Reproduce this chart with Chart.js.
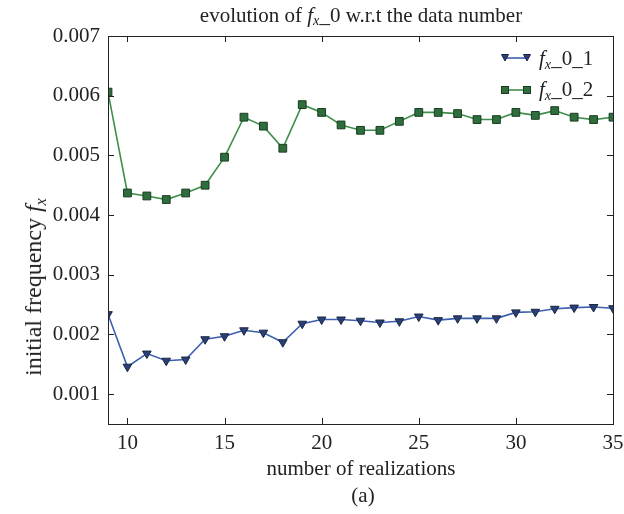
<!DOCTYPE html>
<html><head><meta charset="utf-8">
<script src="https://cdn.jsdelivr.net/npm/chart.js@4.4.0/dist/chart.umd.min.js"></script>
<style>
html,body{margin:0;padding:0;background:#fff;}
#wrap{position:relative;width:624px;height:514px;font-family:"Liberation Serif","Times New Roman",serif;color:#222;}
#c{position:absolute;left:0;top:0;}
.t{position:absolute;white-space:nowrap;font-size:21px;line-height:1;transform:translate(-50%,-50%);}
sub{font-size:0.68em;vertical-align:-0.28em;line-height:0;}
.leg{position:absolute;white-space:nowrap;font-size:21px;line-height:1;display:flex;align-items:center;}
.leg svg{margin-right:8px;}
</style></head>
<body>
<div id="wrap">
<canvas id="c" width="624" height="514"></canvas>
<div class="t" style="left:361px;top:15px;">evolution of <i>f</i><sub><i>x</i></sub>_0 w.r.t the data number</div>
<div class="t" style="left:33px;top:287px;font-size:24px;transform:translate(-50%,-50%) rotate(-90deg);">initial frequency <i>f</i><sub><i>x</i></sub></div>
<div class="t" style="left:361px;top:468px;">number of realizations</div>
<div class="t" style="left:363px;top:495px;">(a)</div>
<div class="leg" style="left:501px;top:48px;">
<svg width="30" height="14" viewBox="0 0 30 14"><line x1="4" y1="6" x2="26" y2="6" stroke="#3c5fb0" stroke-width="1.6"/><polygon points="0.5,2.5 7.5,2.5 4,9" fill="#2a3f73" stroke="#1a2748" stroke-width="1"/><polygon points="22.5,2.5 29.5,2.5 26,9" fill="#2a3f73" stroke="#1a2748" stroke-width="1"/></svg><span><i>f</i><sub><i>x</i></sub>_0_1</span></div>
<div class="leg" style="left:501px;top:79px;">
<svg width="30" height="14" viewBox="0 0 30 14"><line x1="4" y1="7" x2="26" y2="7" stroke="#3f8f4a" stroke-width="1.6"/><rect x="0.5" y="3.5" width="7" height="7" fill="#2e6e3c" stroke="#1b3d22" stroke-width="1"/><rect x="22.5" y="3.5" width="7" height="7" fill="#2e6e3c" stroke="#1b3d22" stroke-width="1"/></svg><span><i>f</i><sub><i>x</i></sub>_0_2</span></div>
</div>
<script>
const realizations = [9,10,11,12,13,14,15,16,17,18,19,20,21,22,23,24,25,26,27,28,29,30,31,32,33,34,35];
const fx01 = [0.00234,0.00146,0.00168,0.00156,0.00158,0.00192,0.00197,0.00207,0.00203,0.00187,0.00218,0.00225,0.00225,0.00223,0.00220,0.00222,0.00230,0.00224,0.00227,0.00227,0.00227,0.00237,0.00238,0.00243,0.00245,0.00246,0.00244];
const fx02 = [0.00606,0.00437,0.00432,0.00426,0.00437,0.00450,0.00497,0.00564,0.00549,0.00512,0.00585,0.00572,0.00551,0.00542,0.00542,0.00557,0.00572,0.00572,0.00570,0.00560,0.00560,0.00572,0.00567,0.00575,0.00564,0.00560,0.00564];
const xTicks = [10,15,20,25,30,35];
const yTicks = [0.001,0.002,0.003,0.004,0.005,0.006,0.007];
const seriesNames = ['f_x_0_1','f_x_0_2'];

const toPts = arr => realizations.map((x,i)=>({x:x,y:arr[i]}));

const framePlugin = {
  id:'frame',
  afterDatasetsDraw(chart){
    const {ctx, chartArea:a, scales:{x,y}} = chart;
    ctx.save();
    ctx.strokeStyle='#222'; ctx.lineWidth=1;
    ctx.beginPath();
    xTicks.forEach(v=>{const p=Math.round(x.getPixelForValue(v))+0.5;
      ctx.moveTo(p,a.bottom); ctx.lineTo(p,a.bottom-6);
      ctx.moveTo(p,a.top); ctx.lineTo(p,a.top+6);});
    yTicks.forEach(v=>{const p=Math.round(y.getPixelForValue(v))+0.5;
      ctx.moveTo(a.left,p); ctx.lineTo(a.left+6,p);
      ctx.moveTo(a.right,p); ctx.lineTo(a.right-6,p);});
    ctx.stroke();
    ctx.strokeRect(Math.round(a.left)+0.5, Math.round(a.top)+0.5, Math.round(a.right-a.left), Math.round(a.bottom-a.top));
    ctx.restore();
  }
};

new Chart(document.getElementById('c'), {
  type:'line',
  data:{datasets:[
    {label:seriesNames[0], data:toPts(fx01), borderColor:'#3c5fb0', borderWidth:1.6,
     pointStyle:'triangle', rotation:180, pointRadius:5, pointBackgroundColor:'#2a3f73', pointBorderColor:'#1a2748', pointBorderWidth:1, tension:0},
    {label:seriesNames[1], data:toPts(fx02), borderColor:'#3f8f4a', borderWidth:1.6,
     pointStyle:'rect', pointRadius:5.5, pointBackgroundColor:'#2e6e3c', pointBorderColor:'#1b3d22', pointBorderWidth:1, tension:0}
  ]},
  options:{
    responsive:false, animation:false, devicePixelRatio:1,
    layout:{padding:{left:0,top:36,right:11,bottom:0}},
    plugins:{legend:{display:false}, title:{display:false}, tooltip:{enabled:false}},
    scales:{
      x:{type:'linear', min:9, max:35,
        afterBuildTicks:s=>{s.ticks = xTicks.map(v=>({value:v}));},
        afterFit:s=>{s.height=90; s.paddingLeft=0; s.paddingRight=0;},
        grid:{display:false, drawTicks:false}, border:{display:false},
        ticks:{padding:7, maxRotation:0, color:'#222', font:{family:'Liberation Serif', size:21}}},
      y:{type:'linear', min:0.0005, max:0.007,
        afterBuildTicks:s=>{s.ticks = yTicks.map(v=>({value:v}));},
        afterFit:s=>{s.width=108; s.paddingTop=0; s.paddingBottom=0;},
        grid:{display:false, drawTicks:false}, border:{display:false},
        ticks:{padding:8, color:'#222', font:{family:'Liberation Serif', size:21}, callback:v=>v.toFixed(3)}}
    }
  },
  plugins:[framePlugin]
});
</script>
</body></html>
